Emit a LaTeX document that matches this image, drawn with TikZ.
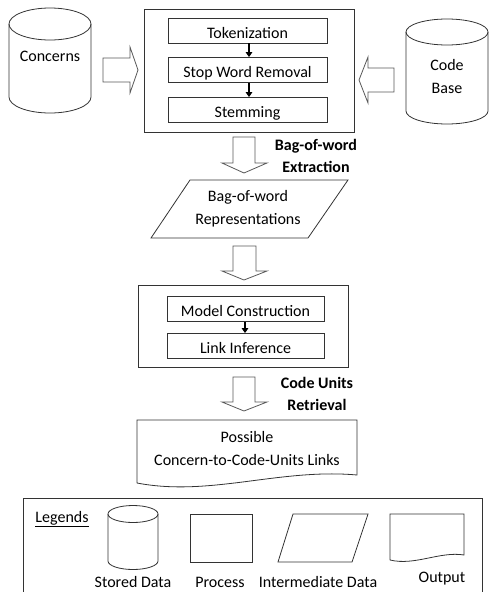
\documentclass[tikz,border=0pt]{standalone}
\usepackage{fontspec}
\setmainfont{Carlito}
\usetikzlibrary{arrows.meta}
\begin{document}
\begin{tikzpicture}[x=1pt,y=1pt,yscale=-1,
  line/.style={draw=black!80,line width=0.8pt},
  hollow/.style={draw=black!65,fill=white,line width=0.8pt},
  frame/.style={draw=black!80,line width=0.8pt,inner sep=0pt},
  procbox/.style={draw=black!80,line width=0.8pt,minimum width=159pt,minimum height=25pt,inner sep=0pt,text height=15pt,text depth=0pt},
  txt/.style={font=\fontsize{16}{23}\selectfont,align=center,inner sep=0pt},
  btxt/.style={font=\fontsize{16}{22}\selectfont\bfseries,align=center,inner sep=0pt},
  flow/.style={-{Triangle[length=5pt,width=6.5pt]},line width=1.6pt,black},
  every node/.style={font=\fontsize{16}{23}\selectfont}]
\useasboundingbox (0,0) rectangle (489,592);

% Concerns cylinder
\draw[line] (9,24) -- (9,97) arc[start angle=180,end angle=0,x radius=41pt,y radius=16pt] -- (91,24);
\draw[line] (50,24) ellipse[x radius=41pt,y radius=16pt];
\node[txt] (concerns) at (50,56) {Concerns};

% Code Base cylinder
\draw[line] (406,32) -- (406,111) arc[start angle=180,end angle=0,x radius=41pt,y radius=13pt] -- (488,32);
\draw[line] (447,32) ellipse[x radius=41pt,y radius=13pt];
\node[txt] (codebase) at (447,76.5) {Code\\Base};

% Extraction process box
\node[frame,minimum width=210pt,minimum height=123pt] (extract) at (249,70.5) {};
\node[procbox] (tok) at (247.5,30.5) {Tokenization};
\node[procbox] (stop) at (247.5,70) {Stop Word Removal};
\node[procbox] (stem) at (247.5,110) {Stemming};
\draw[flow] ([xshift=1.5pt]tok.south) -- ([xshift=1.5pt]stop.north);
\draw[flow] ([xshift=1.5pt]stop.south) -- ([xshift=1.5pt]stem.north);

% side hollow arrows
\draw[hollow] (103,58) -- (130,58) -- (130,47) -- (138,70) -- (130,93) -- (130,82) -- (103,82) -- cycle;
\draw[hollow] (394,68) -- (368,68) -- (368,57) -- (359,80) -- (368,103) -- (368,92) -- (394,92) -- cycle;

% down arrow 1
\draw[hollow] (233,137) -- (255,137) -- (255,163) -- (267,163) -- (244,173) -- (222,163) -- (233,163) -- cycle;
\node[btxt] (bowlabel) at (316,156) {Bag-of-word\\Extraction};

% Bag-of-word representations
\draw[line] (190,180) -- (348,180) -- (308,238) -- (151,238) -- cycle;
\node[txt] (bow) at (248,208.5) {Bag-of-word\\Representations};

% down arrow 2
\draw[hollow] (233,246) -- (256,246) -- (256,271) -- (267,271) -- (244,280) -- (222,271) -- (233,271) -- cycle;

% Inference process box
\node[frame,minimum width=210pt,minimum height=82pt] (infer) at (243,326) {};
\node[procbox,minimum width=157pt] (model) at (245.5,309) {Model Construction};
\node[procbox,minimum width=157pt] (link) at (245.5,346) {Link Inference};
\draw[flow] ([xshift=-0.5pt]model.south) -- ([xshift=-0.5pt]link.north);

% down arrow 3
\draw[hollow] (233,377) -- (255,377) -- (255,402) -- (267,402) -- (244,411) -- (222,402) -- (233,402) -- cycle;
\node[btxt] (cuplabel) at (317,394) {Code Units\\Retrieval};

% Output document
\draw[line] (137,483) -- (137,420) -- (357,420) -- (357,475) .. controls (280,468) and (210,497) .. (137,483);
\node[txt] (links) at (247,448.5) {Possible\\Concern-to-Code-Units Links};

% Legend
\draw[line] (23,594) -- (23,498) -- (482,498) -- (482,594);
\node[txt] (legends) at (62,519) {\underline{Legends}};

\draw[line] (108,514) -- (108,561) arc[start angle=180,end angle=0,x radius=25pt,y radius=8.5pt] -- (158,514);
\draw[line] (133,514) ellipse[x radius=25pt,y radius=8.5pt];
\node[txt] (lstored) at (133,582) {Stored Data};

\node[frame,minimum width=62pt,minimum height=48pt] (lproc) at (221,538) {};
\node[txt] (lprocess) at (220,582) {Process};

\draw[line] (293,514) -- (368,514) -- (352,562) -- (278,562) -- cycle;
\node[txt] (linter) at (318,582) {Intermediate Data};

\draw[line] (390,560) -- (390,514) -- (464,514) -- (464,555) .. controls (440,551) and (415,566) .. (390,560);
\node[txt] (loutput) at (442,579) {Output};
\end{tikzpicture}
\end{document}
